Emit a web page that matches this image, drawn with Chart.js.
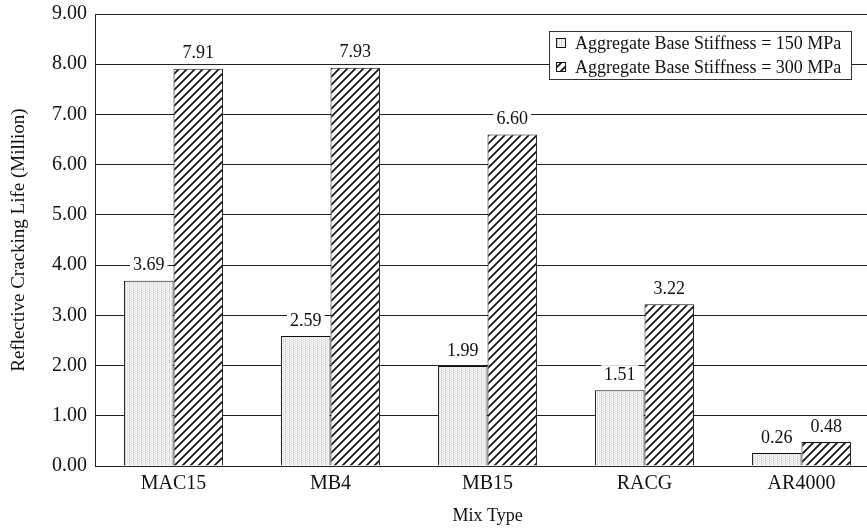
<!DOCTYPE html>
<html>
<head>
<meta charset="utf-8">
<script src="https://cdn.jsdelivr.net/npm/chart.js@4/dist/chart.umd.min.js"></script>
<style>
  html, body { margin: 0; padding: 0; background: #fff; overflow: hidden; }
  #wrap { position: relative; width: 880px; height: 531px; }
</style>
</head>
<body>
<div id="wrap"><canvas id="chart"></canvas></div>
<script>
// datos
const mixTypes = ["MAC15", "MB4", "MB15", "RACG", "AR4000"];
const stiffness150 = [3.69, 2.59, 1.99, 1.51, 0.26];
const stiffness300 = [7.91, 7.93, 6.60, 3.22, 0.48];
const seriesNames = ["Aggregate Base Stiffness = 150 MPa", "Aggregate Base Stiffness = 300 MPa"];
const yTicks = [0, 1, 2, 3, 4, 5, 6, 7, 8, 9];

const FONT = "'Liberation Serif', 'Times New Roman', serif";

// patron punteado claro
function dotPattern() {
  const c = document.createElement("canvas");
  c.width = 4; c.height = 4;
  const g = c.getContext("2d");
  g.fillStyle = "#f6f6f6";
  g.fillRect(0, 0, 4, 4);
  g.fillStyle = "#c4c4c4";
  g.fillRect(1, 0, 1, 1);
  g.fillRect(1, 2, 1, 1);
  g.fillStyle = "#d8d8d8";
  g.fillRect(3, 1, 1, 1);
  g.fillRect(3, 3, 1, 1);
  g.fillStyle = "#e6e6e6";
  g.fillRect(1, 1, 1, 1);
  g.fillRect(1, 3, 1, 1);
  return g.createPattern(c, "repeat");
}

// patron de rayas diagonales
function stripePattern() {
  const s = 8;
  const c = document.createElement("canvas");
  c.width = s; c.height = s;
  const g = c.getContext("2d");
  g.fillStyle = "#ffffff";
  g.fillRect(0, 0, s, s);
  g.strokeStyle = "#111";
  g.lineWidth = 1.7;
  g.beginPath();
  g.moveTo(-1, s + 1); g.lineTo(s + 1, -1);
  g.moveTo(-1, 1); g.lineTo(1, -1);
  g.moveTo(s - 1, s + 1); g.lineTo(s + 1, s - 1);
  g.stroke();
  return g.createPattern(c, "repeat");
}

const fills = [dotPattern(), stripePattern()];

// etiquetas de valor con fondo blanco
const valueLabels = {
  id: "valueLabels",
  afterDatasetsDraw(c) {
    const ctx = c.ctx;
    ctx.save();
    ctx.font = "18px " + FONT;
    ctx.textAlign = "center";
    ctx.textBaseline = "middle";
    c.data.datasets.forEach((ds, i) => {
      c.getDatasetMeta(i).data.forEach((bar, j) => {
        const txt = ds.data[j].toFixed(2);
        const w = ctx.measureText(txt).width;
        const y = bar.y - 15;
        ctx.fillStyle = "#fff";
        ctx.fillRect(bar.x - w / 2 - 3, y - 10, w + 6, 20);
        ctx.fillStyle = "#111";
        ctx.fillText(txt, bar.x, y);
      });
    });
    ctx.restore();
  },
};

// leyenda en recuadro
const boxLegend = {
  id: "boxLegend",
  afterDraw(c) {
    const ctx = c.ctx;
    const x = 549, y = 31, w = 302, h = 48;
    ctx.save();
    ctx.fillStyle = "#fff";
    ctx.fillRect(x, y, w, h);
    ctx.strokeStyle = "#333";
    ctx.lineWidth = 1;
    ctx.strokeRect(x + 0.5, y + 0.5, w, h);
    ctx.font = "18px " + FONT;
    ctx.textBaseline = "middle";
    ctx.textAlign = "left";
    seriesNames.forEach((name, i) => {
      const cy = y + 12 + i * 24;
      ctx.fillStyle = fills[i];
      ctx.fillRect(556, cy - 5, 10, 10);
      ctx.strokeStyle = "#111";
      ctx.strokeRect(556.5, cy - 4.5, 9, 9);
      ctx.fillStyle = "#111";
      ctx.fillText(name, 575, cy + 1);
    });
    ctx.restore();
  },
};

new Chart(document.getElementById("chart"), {
  type: "bar",
  data: {
    labels: mixTypes,
    datasets: [stiffness150, stiffness300].map((vals, i) => ({
      label: seriesNames[i],
      data: vals,
      backgroundColor: fills[i],
      borderColor: "#111",
      borderWidth: 1,
      categoryPercentage: 0.63,
      barPercentage: 1,
    })),
  },
  options: {
    responsive: true,
    maintainAspectRatio: false,
    animation: false,
    layout: { padding: { top: 14, right: 0, left: 4, bottom: 0 } },
    plugins: { legend: { display: false }, tooltip: { enabled: false } },
    scales: {
      x: {
        grid: { display: false, drawTicks: false },
        border: { color: "#222", width: 1 },
        ticks: { color: "#111", font: { family: FONT, size: 20 }, padding: 6 },
        title: { display: true, text: "Mix Type", color: "#111", font: { family: FONT, size: 18 }, padding: { top: 12 } },
        afterFit: (s) => { s.height = 65; },
      },
      y: {
        min: 0,
        max: 9,
        afterBuildTicks: (s) => { s.ticks = yTicks.map((v) => ({ value: v })); },
        grid: { color: "#222", lineWidth: 1, drawTicks: false },
        border: { color: "#222", width: 1 },
        ticks: {
          color: "#111",
          font: { family: FONT, size: 20 },
          padding: 8,
          callback: (v) => Number(v).toFixed(2),
        },
        title: { display: true, text: "Reflective Cracking Life (Million)", color: "#111", font: { family: FONT, size: 19 }, padding: { bottom: 4 } },
        afterFit: (s) => { s.width = 91; s.paddingTop = 0; s.paddingBottom = 0; },
      },
    },
  },
  plugins: [valueLabels, boxLegend],
});
</script>
</body>
</html>
